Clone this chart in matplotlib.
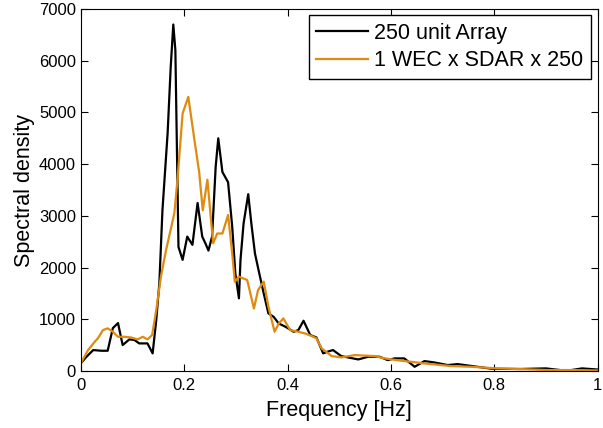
import matplotlib
matplotlib.use('Agg')
from matplotlib import pyplot as plt

# 250 unit array spectrum
array_f = [0.0, 0.011, 0.024, 0.04, 0.052, 0.062, 0.072, 0.081, 0.094, 0.104,
           0.113, 0.129, 0.139, 0.146, 0.152, 0.158, 0.168, 0.174, 0.179, 0.183,
           0.189, 0.197, 0.206, 0.216, 0.226, 0.235, 0.242, 0.247, 0.254, 0.261,
           0.266, 0.274, 0.285, 0.293, 0.299, 0.306, 0.309, 0.315, 0.324, 0.330,
           0.337, 0.344, 0.354, 0.363, 0.373, 0.383, 0.396, 0.412, 0.421, 0.431,
           0.444, 0.456, 0.469, 0.479, 0.488, 0.504, 0.517, 0.537, 0.556, 0.578,
           0.594, 0.607, 0.626, 0.646, 0.665, 0.684, 0.71, 0.729, 0.755, 0.795,
           0.85, 0.90, 0.94, 0.97, 1.0]
array_s = [150, 277, 406, 393, 393, 830, 928, 503, 613, 600,
           535, 535, 342, 986, 1700, 3110, 4600, 5880, 6700, 6200,
           2400, 2150, 2600, 2440, 3250, 2600, 2450, 2330, 2600, 3950,
           4500, 3850, 3650, 2790, 1890, 1406, 2147, 2855, 3420, 2855,
           2275, 1950, 1500, 1115, 1050, 920, 857, 760, 793, 973,
           696, 650, 342, 380, 406, 290, 264, 225, 277, 277,
           212, 245, 245, 83, 193, 167, 116, 135, 100, 45,
           40, 52, 5, 52, 30]

# single WEC scaled spectrum
wec_f = [0.0, 0.014, 0.027, 0.033, 0.043, 0.052, 0.062, 0.072, 0.085, 0.097,
         0.11, 0.12, 0.129, 0.138, 0.146, 0.155, 0.165, 0.181, 0.187, 0.197,
         0.208, 0.219, 0.229, 0.236, 0.245, 0.256, 0.264, 0.274, 0.285, 0.293,
         0.298, 0.306, 0.322, 0.335, 0.343, 0.354, 0.363, 0.375, 0.383, 0.392,
         0.405, 0.421, 0.434, 0.447, 0.456, 0.466, 0.479, 0.485, 0.504, 0.530,
         0.569, 0.588, 0.620, 0.639, 0.665, 0.697, 0.716, 0.755, 0.806, 0.85,
         0.902, 0.946, 1.0]
wec_s = [150, 406, 567, 632, 793, 826, 760, 663, 663, 650,
         613, 663, 613, 696, 1180, 1825, 2340, 3050, 3694, 4980,
         5300, 4530, 3850, 3110, 3700, 2470, 2660, 2660, 3017, 2275,
         1730, 1825, 1760, 1210, 1566, 1730, 1244, 760, 920, 1018,
         793, 760, 727, 677, 632, 438, 342, 290, 264, 309,
         290, 245, 200, 180, 148, 116, 97, 83, 52, 39,
         20, 20, 12]

plt.rcParams['font.family'] = ['Liberation Sans', 'DejaVu Sans']

fig = plt.figure(figsize=(6.03, 4.28), dpi=100)
ax = fig.add_axes([0.134, 0.133, 0.857, 0.846])
ax.plot(array_f, array_s, color='k', linewidth=1.6, label='250 unit Array')
ax.plot(wec_f, wec_s, color='#E08A10', linewidth=1.6, label='1 WEC x SDAR x 250')
ax.set_xlim(0, 1)
ax.set_ylim(0, 7000)
ax.set_xticks([0, 0.2, 0.4, 0.6, 0.8, 1])
ax.set_xticklabels(['0', '0.2', '0.4', '0.6', '0.8', '1'])
ax.set_yticks(range(0, 7001, 1000))
ax.tick_params(direction='in', top=True, right=True, labelsize=12, length=5)
ax.tick_params(axis='x', pad=5)
ax.set_xlabel('Frequency [Hz]', fontsize=15.5, labelpad=5)
ax.set_ylabel('Spectral density', fontsize=15.5, labelpad=3)
ax.legend(loc='upper right', fontsize=15.5, fancybox=False, edgecolor='k',
          framealpha=1, handlelength=2.4, handletextpad=0.3,
          borderaxespad=0.3, borderpad=0.35, labelspacing=0.3)
fig.savefig('out.png', dpi=100)
plt.close(fig)
